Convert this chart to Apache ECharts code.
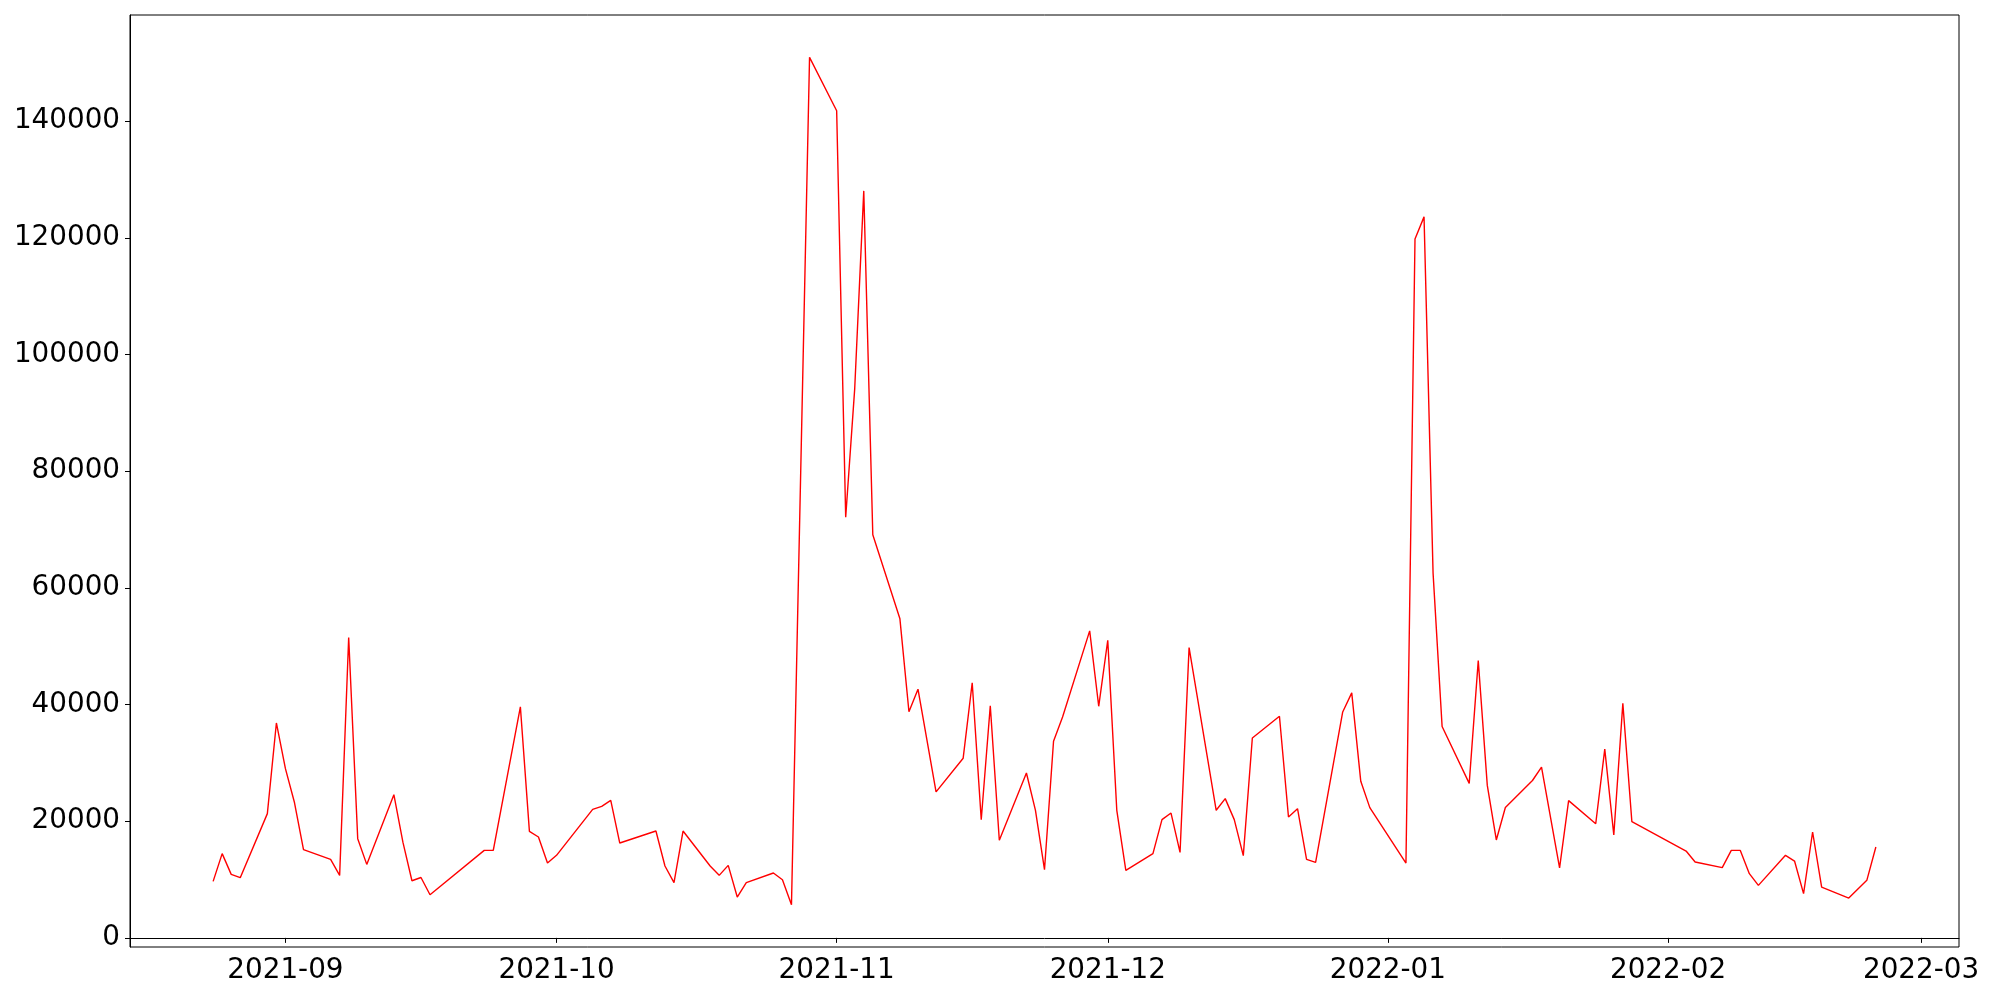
<!DOCTYPE html>
<html>
<head>
<meta charset="utf-8">
<script src="https://cdn.jsdelivr.net/npm/echarts@6/dist/echarts.min.js"></script>
<style>
html,body{margin:0;padding:0;background:#fff;}
#chart{width:2000px;height:1000px;}
</style>
</head>
<body>
<div id="chart"></div>
<script>
const dates = [
'2021-08-24','2021-08-25','2021-08-26','2021-08-27','2021-08-30','2021-08-31',
'2021-09-01','2021-09-02','2021-09-03','2021-09-06','2021-09-07','2021-09-08','2021-09-09','2021-09-10',
'2021-09-13','2021-09-14','2021-09-15','2021-09-16','2021-09-17','2021-09-23','2021-09-24',
'2021-09-27','2021-09-28','2021-09-29','2021-09-30','2021-10-01','2021-10-05','2021-10-06','2021-10-07','2021-10-08',
'2021-10-12','2021-10-13','2021-10-14','2021-10-15','2021-10-18','2021-10-19','2021-10-20','2021-10-21','2021-10-22',
'2021-10-25','2021-10-26','2021-10-27','2021-10-29','2021-11-01','2021-11-02','2021-11-03','2021-11-04','2021-11-05',
'2021-11-08','2021-11-09','2021-11-10','2021-11-12','2021-11-15','2021-11-16','2021-11-17','2021-11-18','2021-11-19',
'2021-11-22','2021-11-23','2021-11-24','2021-11-25','2021-11-26','2021-11-29','2021-11-30','2021-12-01','2021-12-02','2021-12-03',
'2021-12-06','2021-12-07','2021-12-08','2021-12-09','2021-12-10','2021-12-13','2021-12-14','2021-12-15','2021-12-16','2021-12-17',
'2021-12-20','2021-12-21','2021-12-22','2021-12-23','2021-12-24','2021-12-27','2021-12-28','2021-12-29','2021-12-30',
'2022-01-03','2022-01-04','2022-01-05','2022-01-06','2022-01-07','2022-01-10','2022-01-11','2022-01-12','2022-01-13','2022-01-14',
'2022-01-17','2022-01-18','2022-01-20','2022-01-21','2022-01-24','2022-01-25','2022-01-26','2022-01-27','2022-01-28',
'2022-02-03','2022-02-04','2022-02-07','2022-02-08','2022-02-09','2022-02-10','2022-02-11',
'2022-02-14','2022-02-15','2022-02-16','2022-02-17','2022-02-18','2022-02-21','2022-02-23','2022-02-24'
];
const values = [
9690,14440,10890,10320,21300,36840,
29010,23200,15120,13460,10720,51480,17010,12600,
24550,16400,9800,10350,7400,15000,15000,
39590,18260,17290,12830,14150,22040,22550,23580,16260,
18320,12320,9460,18320,12320,10720,12430,7000,9460,
11120,9970,5700,150930,141780,72110,94200,128040,69110,
54690,38760,42630,25020,30800,43730,20240,39800,16740,
28270,21870,11690,33700,37870,52620,39700,51020,21870,11580,
14440,20270,21400,14660,49770,21870,23870,20270,14100,34270,
37990,20720,22150,13460,12950,38730,41990,26840,22330,
12830,119800,123590,62530,36240,26480,47520,26140,16790,22350,
26980,29260,11990,23530,19570,32360,17630,40200,19910,
14890,13000,12040,15000,15000,11010,9000,
14150,13170,7580,18150,8710,6830,9860,15570
];
const yTicks = [0,20000,40000,60000,80000,100000,120000,140000];
const xTickLabels = ['2021-09','2021-10','2021-11','2021-12','2022-01','2022-02','2022-03'];

function toTs(s){ const p=s.split('-').map(Number); return new Date(p[0],p[1]-1,p[2]||1).getTime(); }
const ts = dates.map(toTs);
const seriesData = ts.map((t,i)=>[t, values[i]]);
const xSpan = ts[ts.length-1]-ts[0];
const xMin = ts[0]-0.05*xSpan, xMax = ts[ts.length-1]+0.05*xSpan;
const vMin = Math.min(...values), vMax = Math.max(...values);
const ySpan = vMax - vMin;
const yMin = vMin - 0.05*ySpan, yMax = vMax + 0.05*ySpan;
const xTickTs = xTickLabels.map(toTs);

const font = 'DejaVu Sans';
const chart = echarts.init(document.getElementById('chart'), null, {renderer:'canvas'});
chart.setOption({
  animation:false,
  backgroundColor:'#fff',
  grid:{left:130,right:41,top:15,bottom:53,show:true,borderColor:'#000',borderWidth:1,backgroundColor:'transparent'},
  xAxis:{
    type:'value', min:xMin, max:xMax, scale:true,
    axisLine:{show:true,lineStyle:{color:'#000',width:1}},
    axisTick:{show:true,length:5,lineStyle:{color:'#000',width:1},customValues:xTickTs},
    axisLabel:{color:'#000',fontFamily:font,fontSize:27.8,margin:10,customValues:xTickTs,
      formatter:function(v){const d=new Date(v);const m=d.getMonth()+1;return d.getFullYear()+'-'+(m<10?'0'+m:m);}},
    splitLine:{show:false}
  },
  yAxis:{
    type:'value', min:yMin, max:yMax,
    axisLine:{show:true,lineStyle:{color:'#000',width:1}},
    axisTick:{show:true,length:5,lineStyle:{color:'#000',width:1},customValues:yTicks},
    axisLabel:{color:'#000',fontFamily:font,fontSize:27.8,margin:10,customValues:yTicks,formatter:function(v){return String(v);}},
    splitLine:{show:false}
  },
  series:[{
    type:'line', data:seriesData, showSymbol:false, symbol:'none',
    lineStyle:{color:'#ff0000',width:1.4}, itemStyle:{color:'#ff0000'}
  }]
});
</script>
</body>
</html>
